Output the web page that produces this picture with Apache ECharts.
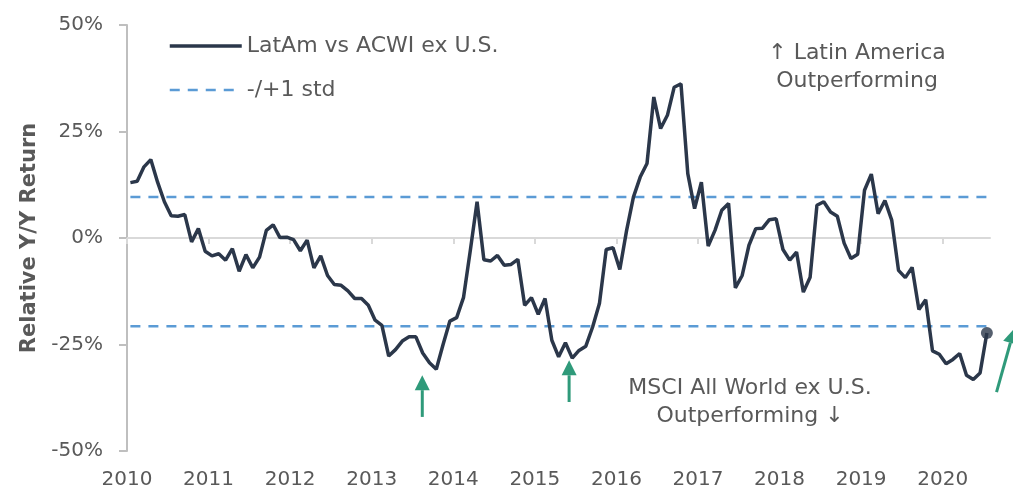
<!DOCTYPE html>
<html>
<head>
<meta charset="utf-8">
<script src="https://cdn.jsdelivr.net/npm/echarts@6/dist/echarts.min.js"></script>
<style>
  html, body { margin: 0; padding: 0; background: #fff; }
  #chart { width: 1013px; height: 495px; }
</style>
</head>
<body>
<div id="chart"></div>
<script>
// monthly relative return, LatAm vs ACWI ex U.S. (%), Jan 2010 .. Jul 2020
var startYear = 2010;
var relReturn = [
  13.0, 13.3, 16.7, 18.4, 13.1, 8.5, 5.2, 5.1, 5.5, -0.9, 2.2, -3.1,
  -4.2, -3.7, -5.2, -2.5, -7.8, -3.9, -7.0, -4.5, 1.8, 3.1, 0.1, 0.2,
  -0.4, -3.0, -0.5, -7.0, -4.2, -8.8, -10.9, -11.1, -12.4, -14.2, -14.2, -15.8,
  -19.3, -20.5, -27.7, -26.2, -24.2, -23.2, -23.2, -27.0, -29.3, -30.8, -25.0, -19.5,
  -18.7, -14.0, -3.0, 8.5, -5.1, -5.4, -4.1, -6.4, -6.2, -5.0, -15.8, -14.0,
  -17.9, -14.2, -24.0, -27.9, -24.6, -28.2, -26.4, -25.4, -20.9, -15.4, -2.7, -2.3,
  -7.4, 1.8, 9.6, 14.3, 17.5, 33.1, 25.7, 28.8, 35.4, 36.2, 15.1, 6.9,
  13.1, -1.9, 1.8, 6.5, 8.1, -11.7, -8.8, -1.7, 2.2, 2.3, 4.3, 4.5,
  -2.7, -5.2, -3.3, -12.7, -9.2, 7.7, 8.5, 6.1, 5.1, -1.2, -4.8, -3.8,
  11.2, 15.0, 5.7, 8.8, 4.2, -7.6, -9.3, -6.9, -16.8, -14.5, -26.5, -27.3,
  -29.5, -28.5, -27.1, -32.2, -33.2, -31.7, -22.3
];
// +/- 1 standard deviation bands (%)
var stdUpper = 9.6;
var stdLower = -20.7;
// x axis labels
var yearTicks = [2010, 2011, 2012, 2013, 2014, 2015, 2016, 2017, 2018, 2019, 2020];
var xMax = 2020.58;
// green arrows: [x, tail value, x, tip value]
var arrows = [
  [2013.62, -42.0, 2013.62, -32.2],
  [2015.42, -38.5, 2015.42, -28.7],
  [2020.66, -36.2, 2020.88, -21.2]
];

var mainName = 'LatAm vs ACWI ex U.S.';
var stdName = '-/+1 std';
var txtColor = '#595959';
var mainColor = '#2b374a';
var stdColor = '#5b9bd5';
var font = '"DejaVu Sans", sans-serif';

var lineData = [];
for (var i = 0; i < relReturn.length; i++) {
  lineData.push([startYear + (i + 0.5) / 12, relReturn[i]]);
}
var xFirst = lineData[0][0];
var xLast = lineData[lineData.length - 1][0];

function arrowItem(params, api) {
  var p1 = api.coord([api.value(0), api.value(1)]);
  var p2 = api.coord([api.value(2), api.value(3)]);
  var dx = p2[0] - p1[0], dy = p2[1] - p1[1];
  var len = Math.sqrt(dx * dx + dy * dy);
  var ux = dx / len, uy = dy / len;
  var headLen = 15, headW = 7.5;
  var bx = p2[0] - ux * headLen, by = p2[1] - uy * headLen;
  var col = '#2f9a7a';
  return {
    type: 'group',
    children: [
      { type: 'line', shape: { x1: p1[0], y1: p1[1], x2: bx, y2: by },
        style: { stroke: col, lineWidth: 3 } },
      { type: 'polygon', shape: { points: [
          [p2[0], p2[1]],
          [bx - uy * headW, by + ux * headW],
          [bx + uy * headW, by - ux * headW]
        ] }, style: { fill: col } }
    ]
  };
}

var chart = echarts.init(document.getElementById('chart'));
chart.setOption({
  animation: false,
  textStyle: { fontFamily: font },
  grid: { left: 127, right: 23, top: 25, bottom: 44 },
  legend: {
    orient: 'vertical',
    left: 168,
    top: 35,
    itemWidth: 72,
    itemHeight: 14,
    itemGap: 22,
    padding: 0,
    itemStyle: { opacity: 0 },
    data: [
      { name: mainName, lineStyle: { width: 3.5, color: mainColor } },
      { name: stdName, lineStyle: { width: 2.5, color: stdColor, type: [10, 8] } }
    ],
    textStyle: { fontSize: 22, color: txtColor, fontFamily: font }
  },
  xAxis: [
    {
      type: 'value', min: 2010, max: xMax, interval: 1, position: 'bottom',
      axisLine: { show: false, onZero: false },
      axisTick: { show: false },
      splitLine: { show: false },
      axisLabel: {
        customValues: yearTicks, fontSize: 20, color: txtColor, margin: 19,
        formatter: function (v) { return String(Math.round(v)); }
      }
    },
    {
      type: 'value', min: 2010, max: xMax, interval: 1, position: 'bottom',
      axisLine: { show: true, onZero: true, lineStyle: { color: '#d9d9d9', width: 2 } },
      axisTick: { show: true, customValues: yearTicks, length: 6, lineStyle: { color: '#d9d9d9', width: 2 } },
      axisLabel: { show: false },
      splitLine: { show: false }
    }
  ],
  yAxis: {
    type: 'value', min: -50, max: 50, interval: 25,
    name: 'Relative Y/Y Return',
    nameLocation: 'middle',
    nameGap: 85,
    nameTextStyle: { fontSize: 21, fontWeight: 'bold', color: txtColor, fontFamily: font },
    axisLine: { show: true, onZero: false, lineStyle: { color: '#bfbfbf', width: 2 } },
    axisTick: { show: true, length: 8, lineStyle: { color: '#bfbfbf', width: 2 } },
    splitLine: { show: false },
    axisLabel: { formatter: '{value}%', fontSize: 20, color: txtColor, margin: 24 }
  },
  series: [
    {
      name: stdName, type: 'line', xAxisIndex: 0, symbol: 'none', z: 2,
      lineStyle: { color: stdColor, width: 2.5, type: [10, 8] },
      itemStyle: { color: stdColor },
      data: [[xFirst, stdUpper], [xLast, stdUpper]]
    },
    {
      name: stdName, type: 'line', xAxisIndex: 0, symbol: 'none', z: 2,
      lineStyle: { color: stdColor, width: 2.5, type: [10, 8] },
      itemStyle: { color: stdColor },
      data: [[xFirst, stdLower], [xLast, stdLower]]
    },
    {
      name: mainName, type: 'line', xAxisIndex: 0, symbol: 'none', z: 3,
      lineStyle: { color: mainColor, width: 3.5 },
      itemStyle: { color: mainColor },
      data: lineData
    },
    {
      name: 'last', type: 'scatter', xAxisIndex: 0, z: 4,
      symbol: 'circle', symbolSize: 12,
      itemStyle: { color: mainColor },
      data: [lineData[lineData.length - 1]]
    },
    {
      name: 'arrows', type: 'custom', xAxisIndex: 0, z: 4, clip: false,
      renderItem: arrowItem,
      encode: { x: [0, 2], y: [1, 3] },
      data: arrows
    }
  ],
  graphic: [
    {
      type: 'text', x: 857, y: 39,
      style: {
        text: '\u2191 Latin America\nOutperforming',
        font: '22px ' + font, fill: txtColor,
        textAlign: 'center', textVerticalAlign: 'top', lineHeight: 28
      }
    },
    {
      type: 'text', x: 750, y: 374,
      style: {
        text: 'MSCI All World ex U.S.\nOutperforming \u2193',
        font: '22px ' + font, fill: txtColor,
        textAlign: 'center', textVerticalAlign: 'top', lineHeight: 28
      }
    }
  ]
});
</script>
</body>
</html>
